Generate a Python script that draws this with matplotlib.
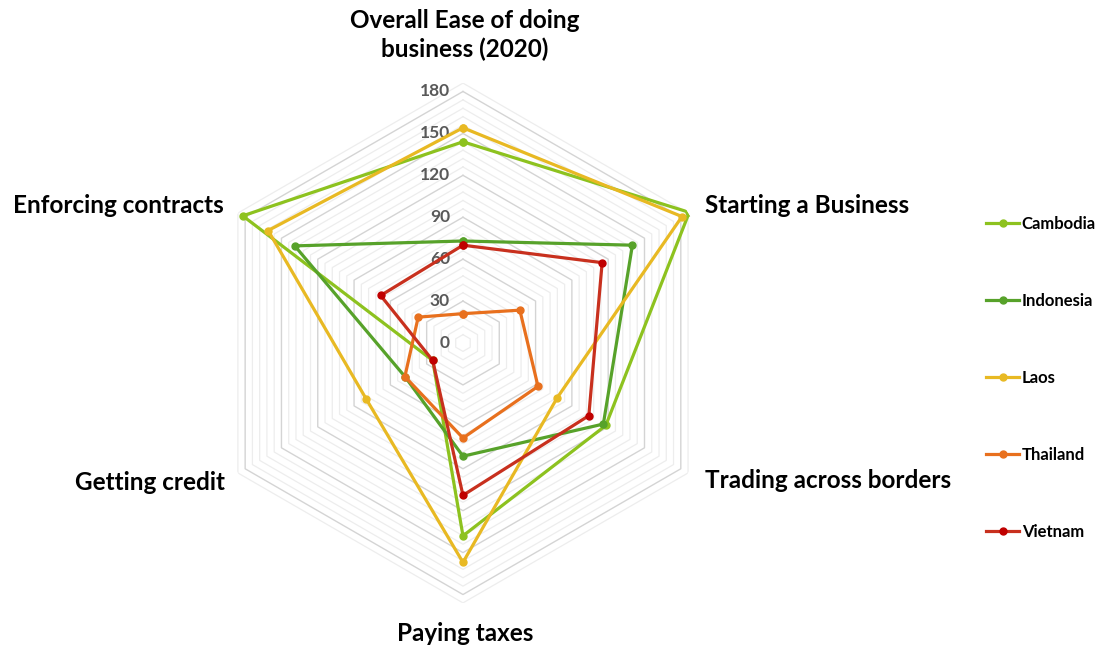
import numpy as np
import matplotlib.pyplot as plt

categories = ['Overall Ease of doing\nbusiness (2020)', 'Starting a Business', 'Trading across borders',
              'Paying taxes', 'Getting credit', 'Enforcing contracts']
countries = ['Cambodia', 'Indonesia', 'Laos', 'Thailand', 'Vietnam']
cambodia = [144, 187, 118, 138, 25, 182]
indonesia = [73, 140, 116, 81, 48, 139]
laos = [154, 181, 78, 157, 80, 161]
thailand = [21, 47, 62, 68, 48, 37]
vietnam = [70, 115, 104, 109, 25, 68]
r_ticks = [0, 30, 60, 90, 120, 150, 180]

series = [cambodia, indonesia, laos, thailand, vietnam]
line_cols = ['#8DC21F', '#57A22A', '#E8B923', '#E8701E', '#C8301E']
mark_cols = ['#8DC21F', '#57A22A', '#E8B923', '#E8701E', '#C00000']

plt.rcParams['font.family'] = ['Lato', 'DejaVu Sans']

fig = plt.figure(figsize=(11.06, 6.47), dpi=100)
ax = fig.add_axes([0.1836, 0.0680, 0.470, 0.8037], projection='polar')
ax.set_theta_zero_location('N')
ax.set_theta_direction(-1)
ax.set_ylim(0, 186)
ax.grid(False)
ax.spines['polar'].set_visible(False)
ax.set_xticks([])
ax.set_yticks([])
ax.patch.set_alpha(0)

theta = np.linspace(0, 2 * np.pi, len(categories), endpoint=False)
theta_c = np.append(theta, theta[0])

# hexagon grid: minor every 6, major every 30
for lev in range(6, 187, 6):
    if lev % 30 == 0:
        ax.plot(theta_c, [lev] * len(theta_c), color='#D4D4D4', lw=1.0, zorder=1)
    else:
        ax.plot(theta_c, [lev] * len(theta_c), color='#EDEDED', lw=0.9, zorder=1)

for t in r_ticks:
    ax.annotate(str(t), xy=(0, t), xytext=(-13, 0), textcoords='offset pixels',
                ha='right', va='center', fontsize=12.5, fontweight='bold', color='#595959')

for vals, name, lc, mc in zip(series, countries, line_cols, mark_cols):
    v = vals + vals[:1]
    ax.plot(theta_c, v, color=lc, lw=2.3, marker='o', markersize=5,
            markerfacecolor=mc, markeredgecolor=mc, label=name, zorder=3)

offsets = [(2, 48), (17, 8), (17, -8), (2, -31), (-13, -10), (-14, 8)]
aligns = ['center', 'left', 'left', 'center', 'right', 'right']
for th, lab, off, ha in zip(theta, categories, offsets, aligns):
    ax.annotate(lab, xy=(th, 186), xytext=off, textcoords='offset pixels',
                ha=ha, va='center', fontsize=17.5, fontweight='bold', color='black',
                linespacing=1.25, annotation_clip=False)

leg = fig.legend(loc='upper left', bbox_to_anchor=(986 / 1106, 1 - 216 / 647),
                 frameon=False, prop={'weight': 'bold', 'size': 12},
                 handlelength=2.0, handletextpad=0.15, labelspacing=3.66,
                 borderpad=0, borderaxespad=0)

fig.savefig('out.png', dpi=100)
